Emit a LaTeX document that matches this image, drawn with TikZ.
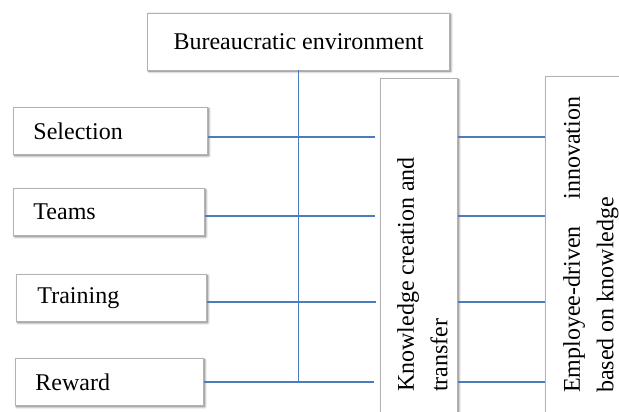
\documentclass[tikz,border=0pt]{standalone}
\usepackage{fontspec}
\setmainfont{Liberation Serif}
\usetikzlibrary{shadows.blur}
\definecolor{linkblue}{RGB}{74,124,190}

\begin{document}
\begin{tikzpicture}[x=1pt, y=-1pt,
every node/.style = {font=\fontsize{24}{33.5}\selectfont},
       box/.style = {draw=gray!60, line width=0.9pt, fill=white,
                     blur shadow={shadow xshift=1.3pt, shadow yshift=-1.3pt,
                                  shadow blur radius=2.2pt, shadow opacity=60}},
      item/.style = {box, anchor=north west, inner xsep=20pt, inner ysep=0pt,
                     text width=#1, align=left, minimum height=47pt},
      vtxt/.style = {rotate=90, anchor=north west, inner sep=0pt, align=left},
      link/.style = {draw=linkblue, line width=1.5pt}
                    ]
\useasboundingbox (0,0) rectangle (619,412);

% boxes
\node (bur) [box, minimum width=302pt, minimum height=57pt] at (298.5,41.5)
      {Bureaucratic environment};
\node (sel) [item=154pt] at (13,107) {Selection};
\node (tea) [item=151pt] at (13,188) {Teams};
\node (tra) [item=148pt, inner xsep=21pt] at (16,274) {Training};
\node (rew) [item=148pt, inner xsep=20pt] at (15,358) {Reward};
\node (know) [box, anchor=north west, minimum width=77pt, minimum height=360pt]
      at (380,78) {};
\node (emp) [box, anchor=north west, minimum width=110pt, minimum height=360pt]
      at (545,76) {};
\node (knowtxt) [vtxt] at (397,392) {Knowledge creation and\\transfer};
\node (emptxt)  [vtxt] at (563,393)
      {\hbox to 296pt{Employee-driven\hfil innovation}\\based on knowledge};

% free ends in front of the knowledge box
\coordinate (e1) at (375,137);
\coordinate (e2) at (375,216);
\coordinate (e3) at (376,302);
\coordinate (e4) at (374,382);

% connectors
\draw[link] (bur.south) -- (bur.south |- e4);
\draw[link] (sel.east |- e1) -- (e1)
            (tea.east |- e2) -- (e2)
            (tra.east |- e3) -- (e3)
            (rew.east |- e4) -- (e4);
\draw[link] (know.east |- e1) -- (emp.west |- e1)
            (know.east |- e2) -- (emp.west |- e2)
            (know.east |- e3) -- (emp.west |- e3)
            (know.east |- e4) -- (emp.west |- e4);
\end{tikzpicture}
\end{document}
